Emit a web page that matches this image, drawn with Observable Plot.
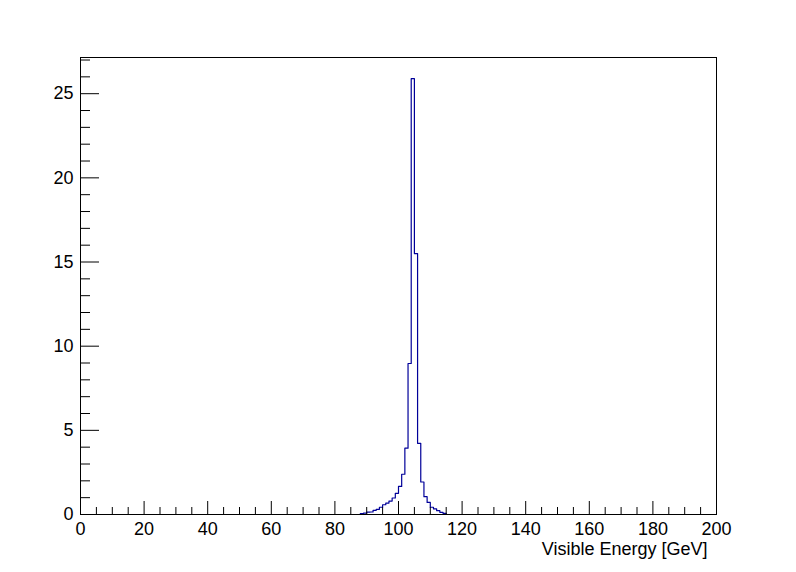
<!DOCTYPE html>
<html>
<head>
<meta charset="utf-8">
<script src="https://cdn.jsdelivr.net/npm/d3@7"></script>
<script src="https://cdn.jsdelivr.net/npm/@observablehq/plot@0.6"></script>
<style>
  html, body { margin: 0; padding: 0; background: white; }
</style>
</head>
<body>
<div id="chart"></div>
<script>
// Histogram bins (1 GeV wide), left edges and contents
const binLeft = [88, 89, 90, 91, 92, 93, 94, 95, 96, 97, 98, 99, 100, 101, 102, 103, 104, 105, 106, 107, 108, 109, 110, 111, 112, 113, 114];
const binContent = [0.06, 0.08, 0.14, 0.15, 0.25, 0.31, 0.43, 0.58, 0.68, 0.80, 0.98, 1.26, 1.67, 2.39, 3.94, 8.97, 25.89, 15.50, 4.23, 1.93, 1.06, 0.72, 0.43, 0.33, 0.23, 0.13, 0.07];
const binWidth = 1;

const xMajorTicks = [0, 20, 40, 60, 80, 100, 120, 140, 160, 180, 200];
const xMinorTicks = d3.range(0, 201, 5).filter(v => v % 20 !== 0);
const yMajorTicks = [0, 5, 10, 15, 20, 25];
const yMinorTicks = d3.range(0, 28, 1).filter(v => v % 5 !== 0);
const xDomain = [0, 200];
const yDomain = [0, 27.15];
const xTitle = "Visible Energy [GeV]";

const W = 796, H = 572;
const mL = 80, mR = 80, mT = 57, mB = 58;
const frameW = W - mL - mR, frameH = H - mT - mB;

// step outline points
const pts = [{x: binLeft[0], y: 0}]
  .concat(binLeft.map((b, i) => ({x: b, y: binContent[i]})))
  .concat([{x: binLeft[binLeft.length - 1] + binWidth, y: 0}]);

const chart = Plot.plot({
  width: W,
  height: H,
  marginLeft: mL,
  marginRight: mR,
  marginTop: mT,
  marginBottom: mB,
  style: {fontFamily: "'Liberation Sans', Arial, Helvetica, sans-serif", fontSize: "18px", background: "white", color: "black"},
  x: {domain: xDomain},
  y: {domain: yDomain},
  marks: [
    Plot.line(pts, {x: "x", y: "y", curve: "step-after", stroke: "#000099", strokeWidth: 1.2}),
    Plot.frame({stroke: "black", strokeWidth: 1}),
    // x ticks (inside, upward)
    Plot.ruleX(xMajorTicks, {x: d => d, insetTop: frameH - 13, stroke: "black"}),
    Plot.ruleX(xMinorTicks, {x: d => d, insetTop: frameH - 7, stroke: "black"}),
    // y ticks (inside, rightward)
    Plot.ruleY(yMajorTicks, {y: d => d, insetRight: frameW - 19, stroke: "black"}),
    Plot.ruleY(yMinorTicks, {y: d => d, insetRight: frameW - 10, stroke: "black"}),
    Plot.axisX({ticks: xMajorTicks, tickSize: 0, tickPadding: 8, label: null, fontSize: 18, tickFormat: d => String(d)}),
    Plot.axisY({ticks: yMajorTicks, tickSize: 0, tickPadding: 7, label: null, fontSize: 18, tickFormat: d => String(d)}),
    Plot.text([xTitle], {text: d => d, frameAnchor: "bottom-right", textAnchor: "end", lineAnchor: "bottom", dx: -9, dy: 40, fontSize: 18})
  ]
});
document.getElementById("chart").appendChild(chart);
</script>
</body>
</html>
